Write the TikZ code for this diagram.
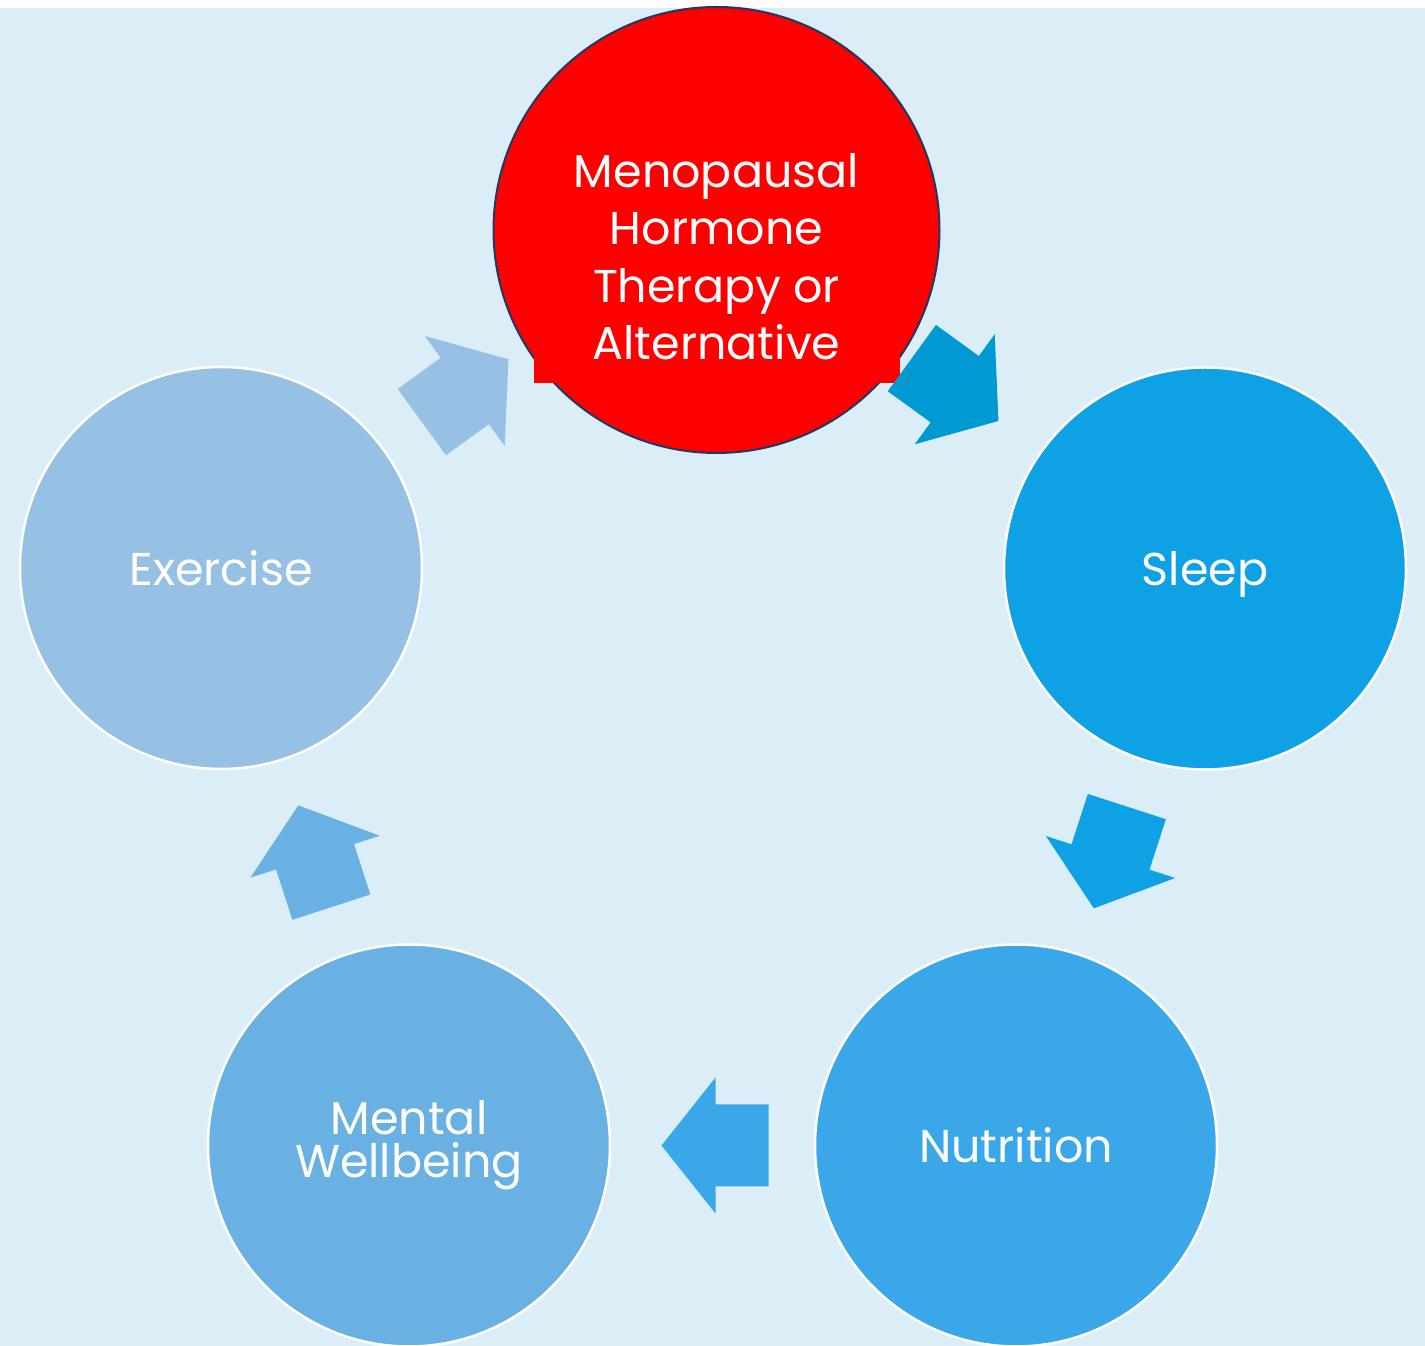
\documentclass[tikz,border=0pt]{standalone}
\usepackage{fontspec}
\setmainfont{Poppins}
\usetikzlibrary{calc}

\definecolor{bgblue}{HTML}{DBEEF7}
\definecolor{hormred}{HTML}{FF0000}
\definecolor{hormline}{HTML}{1F3864}
\definecolor{sleepblue}{HTML}{0EA2E5}
\definecolor{nutriblue}{HTML}{3AA8E8}
\definecolor{mentalblue}{HTML}{6AB1E3}
\definecolor{exerblue}{HTML}{97C1E4}
\definecolor{arrowdark}{HTML}{0099D2}

% 块状箭头: #1 中心点, #2 角度, #3 颜色
\newcommand{\blockarrow}[3]{%
  \fill[#3, shift={(#1)}, rotate=#2]
    (-53,-41) -- (0,-41) -- (0,-68) -- (54,0) -- (0,68) -- (0,41) -- (-53,41) -- cycle;}

\begin{document}
\begin{tikzpicture}[x=1pt, y=1pt,
    ring/.style={circle, minimum size=402, inner sep=0pt, draw=white, line width=2.5pt,
      text=white, text depth=0pt, align=center,
      font=\fontsize{46}{43}\selectfont},
    hormbox/.style={rectangle, fill=hormred, minimum width=366, minimum height=253,
      inner sep=0pt, text=white, align=center,
      font=\fontsize{46}{57.5}\selectfont}]
    % 定义参数
    % 1pt = 1 像素: 画布 1425 x 1346
    % 顶部 8 像素留白, 其余为浅蓝底色
    \useasboundingbox (0,0) rectangle (1425,1346);
    \fill[bgblue] (0,0) rectangle (1425,1338);

    % 五个圆, 顶部为红色
    \node[circle, minimum size=446, inner sep=0pt, fill=hormred, draw=hormline, line width=2pt]
        (hormone) at (716.5,1116) {};
    \node[hormbox] (hormtext) at ($(hormone)+(0,-26.5)$) {Menopausal\\Hormone\\Therapy or\\Alternative};
    \node[ring, fill=sleepblue] (sleep) at (1205,777.5) {Sleep};
    \node[ring, fill=nutriblue] (nutrition) at (1016,200.5) {Nutrition};
    \node[ring, fill=mentalblue, text depth=] (mental) at (409,200.5) {Mental\\Wellbeing};
    \node[ring, fill=exerblue] (exercise) at (221,778) {Exercise};

    % 循环箭头: 放在相邻两圆的中点
    \coordinate (ahs) at ($($(hormone)!0.5!(sleep)$)+(-6,10)$);
    \coordinate (asn) at ($(sleep)!0.5!(nutrition)$);
    \coordinate (anm) at ($($(nutrition)!0.5!(mental)$)+(3,0)$);
    \coordinate (ame) at ($(mental)!0.5!(exercise)$);
    \coordinate (aeh) at ($($(exercise)!0.5!(hormone)$)+(-4,8)$);

    \blockarrow{ahs}{-36}{arrowdark}
    \blockarrow{asn}{-108}{sleepblue}
    \blockarrow{anm}{180}{nutriblue}
    \blockarrow{ame}{108}{mentalblue}
    \blockarrow{aeh}{36}{exerblue}
\end{tikzpicture}
\end{document}
